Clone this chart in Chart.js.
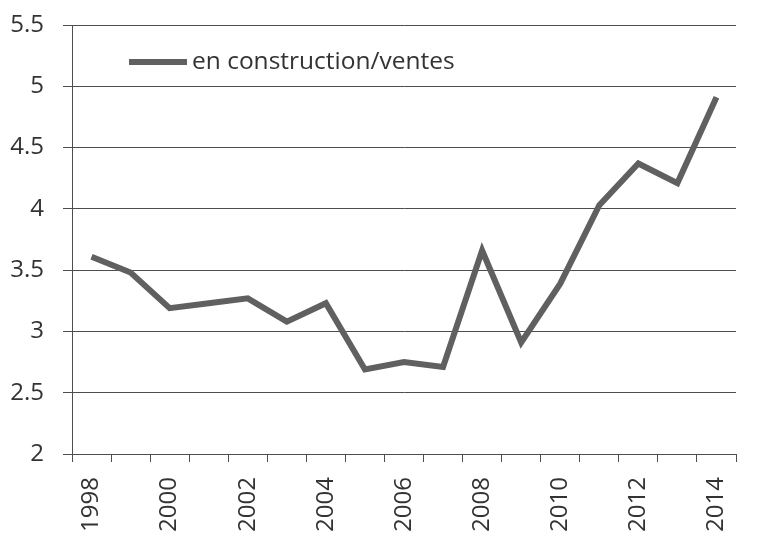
<!DOCTYPE html>
<html lang="fr">
<head>
<meta charset="UTF-8" />
<title>en construction/ventes</title>
<script src="https://cdn.jsdelivr.net/npm/chart.js"></script>
<style>
  html, body { margin: 0; padding: 0; background: #fff; }
  #wrap { width: 770px; height: 535px; }
</style>
</head>
<body>
<div id="wrap"><canvas id="chart"></canvas></div>
<script>
// data
const years = ["1998","1999","2000","2001","2002","2003","2004","2005","2006","2007","2008","2009","2010","2011","2012","2013","2014"];
const ratio = [3.61, 3.48, 3.19, 3.23, 3.27, 3.08, 3.23, 2.69, 2.75, 2.71, 3.66, 2.91, 3.39, 4.03, 4.37, 4.21, 4.91];
const yTicks = [2, 2.5, 3, 3.5, 4, 4.5, 5, 5.5];
const seriesName = "en construction/ventes";

const FONT = "'Open Sans', 'Noto Sans', sans-serif";
const LINE = "#606060";
const GRID = "#4d4d4d";
const TEXT = "#333333";

// legend drawn inside the plot, top-left
const insideLegend = {
  id: "insideLegend",
  afterDraw(chart) {
    const ctx = chart.ctx;
    const ds = chart.data.datasets[0];
    const x0 = 129, y0 = 62;
    ctx.save();
    ctx.strokeStyle = ds.borderColor;
    ctx.lineWidth = 6;
    ctx.beginPath();
    ctx.moveTo(x0, y0);
    ctx.lineTo(x0 + 58, y0);
    ctx.stroke();
    ctx.fillStyle = TEXT;
    ctx.font = "24.5px " + FONT;
    ctx.textBaseline = "middle";
    ctx.fillText(ds.label, x0 + 63, y0);
    ctx.restore();
  }
};

new Chart(document.getElementById("chart"), {
  type: "line",
  data: {
    labels: years,
    datasets: [{
      label: seriesName,
      data: ratio,
      borderColor: LINE,
      borderWidth: 6,
      pointRadius: 0,
      tension: 0,
      fill: false
    }]
  },
  options: {
    responsive: true,
    maintainAspectRatio: false,
    animation: false,
    layout: { padding: { left: 0, right: 34, top: 25, bottom: 0 } },
    plugins: { legend: { display: false }, tooltip: { enabled: false } },
    scales: {
      x: {
        offset: true,
        afterFit: (axis) => { axis.height = 81; },
        grid: { offset: true, drawOnChartArea: false, drawTicks: true, tickLength: 8, color: GRID },
        border: { display: true, color: GRID, width: 1 },
        ticks: {
          autoSkip: false,
          minRotation: 90,
          maxRotation: 90,
          padding: 15,
          color: TEXT,
          font: { family: FONT, size: 24 },
          callback: (v, i) => (i % 2 === 0 ? years[i] : "")
        }
      },
      y: {
        min: 2,
        max: 5.5,
        afterFit: (axis) => { axis.width = 72; axis.paddingTop = 0; axis.paddingBottom = 0; },
        afterBuildTicks: (axis) => { axis.ticks = yTicks.map(v => ({ value: v })); },
        grid: { drawTicks: true, tickLength: 9, color: GRID, lineWidth: 1 },
        border: { display: true, color: GRID, width: 1 },
        ticks: {
          padding: 19,
          color: TEXT,
          font: { family: FONT, size: 24 },
          callback: (v) => String(v)
        }
      }
    }
  },
  plugins: [insideLegend]
});
</script>
</body>
</html>
